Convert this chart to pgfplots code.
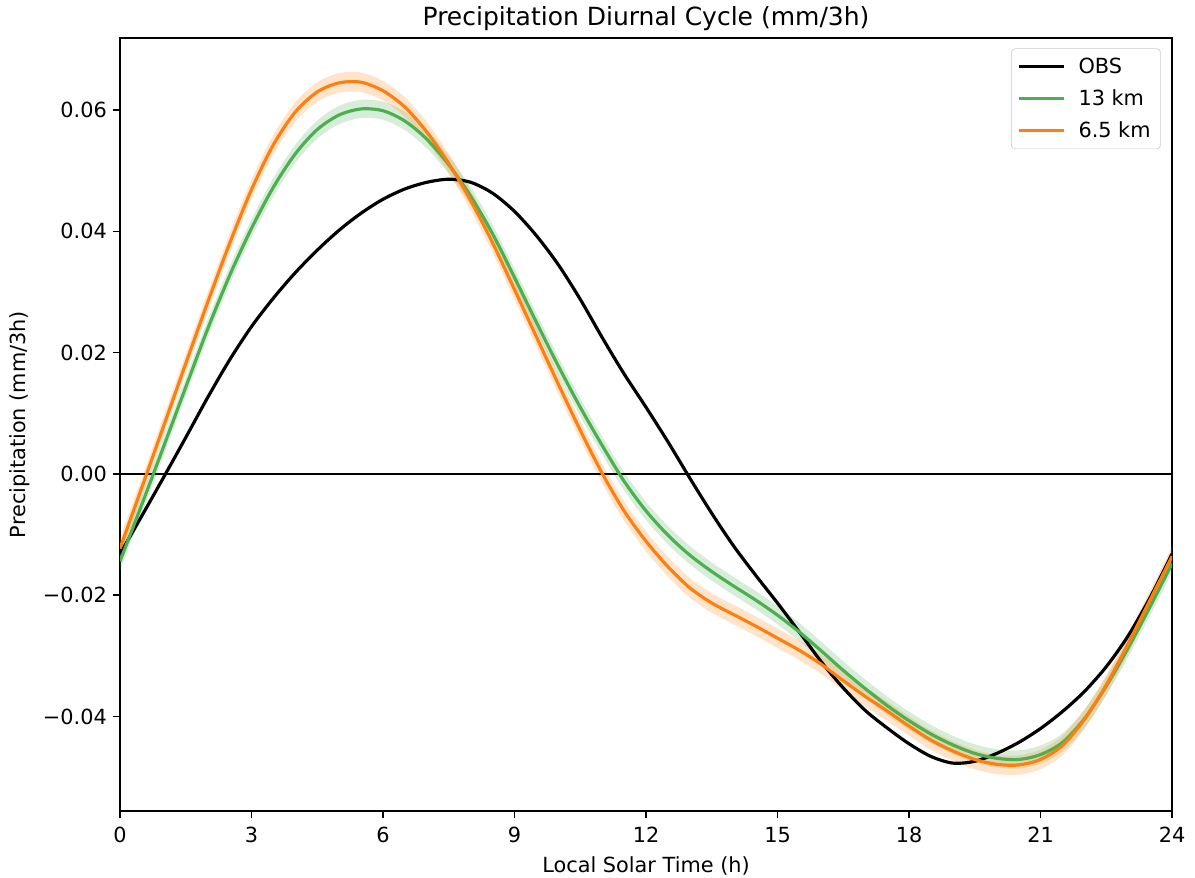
\documentclass[border=0pt]{standalone}
\usepackage{fontspec}
\setmainfont{DejaVu Sans}
\usepackage{pgfplots}
\usepackage{pgfplotstable}
\pgfplotsset{compat=1.18}
\usepgfplotslibrary{fillbetween}
\definecolor{cgreen}{HTML}{4CAF50}
\definecolor{corange}{HTML}{FF7F0E}
\pgfplotstableread{
x obs g glo ghi o olo ohi
0 -0.0132 -0.0144 -0.0159 -0.0129 -0.0123 -0.0139 -0.0107
0.5 -0.0069 -0.0050 -0.0065 -0.0035 -0.0022 -0.0038 -0.0006
1 -0.0005 0.0046 0.0031 0.0061 0.0080 0.0064 0.0096
1.5 0.0060 0.0143 0.0128 0.0158 0.0182 0.0166 0.0198
2 0.0126 0.0239 0.0224 0.0254 0.0283 0.0267 0.0299
2.5 0.0188 0.0327 0.0312 0.0342 0.0380 0.0364 0.0396
3 0.0243 0.0405 0.0390 0.0420 0.0469 0.0453 0.0485
3.5 0.0290 0.0473 0.0458 0.0488 0.0543 0.0527 0.0559
4 0.0332 0.0528 0.0513 0.0543 0.0597 0.0581 0.0613
4.5 0.0369 0.0568 0.0553 0.0583 0.0630 0.0614 0.0646
5 0.0402 0.0592 0.0577 0.0607 0.0645 0.0629 0.0661
5.5 0.0430 0.0602 0.0587 0.0617 0.0646 0.0630 0.0662
6 0.0453 0.0599 0.0584 0.0614 0.0632 0.0616 0.0648
6.5 0.0470 0.0582 0.0567 0.0597 0.0605 0.0589 0.0621
7 0.0481 0.0552 0.0537 0.0567 0.0564 0.0548 0.0580
7.5 0.0486 0.0510 0.0495 0.0525 0.0512 0.0496 0.0528
8 0.0481 0.0458 0.0443 0.0473 0.0451 0.0435 0.0467
8.5 0.0463 0.0396 0.0381 0.0411 0.0381 0.0365 0.0397
9 0.0433 0.0324 0.0309 0.0339 0.0304 0.0288 0.0320
9.5 0.0393 0.0250 0.0235 0.0265 0.0226 0.0210 0.0242
10 0.0345 0.0178 0.0163 0.0193 0.0148 0.0132 0.0164
10.5 0.0288 0.0110 0.0095 0.0125 0.0072 0.0056 0.0088
11 0.0225 0.0047 0.0032 0.0062 0.0001 -0.0015 0.0017
11.5 0.0165 -0.0012 -0.0027 0.0003 -0.0061 -0.0077 -0.0045
12 0.0110 -0.0061 -0.0076 -0.0046 -0.0111 -0.0127 -0.0095
12.5 0.0053 -0.0101 -0.0116 -0.0086 -0.0153 -0.0169 -0.0137
13 -0.0007 -0.0134 -0.0149 -0.0119 -0.0188 -0.0204 -0.0172
13.5 -0.0065 -0.0161 -0.0176 -0.0146 -0.0213 -0.0229 -0.0197
14 -0.0119 -0.0185 -0.0200 -0.0170 -0.0232 -0.0248 -0.0216
14.5 -0.0167 -0.0208 -0.0223 -0.0193 -0.0251 -0.0267 -0.0235
15 -0.0213 -0.0233 -0.0248 -0.0218 -0.0271 -0.0287 -0.0255
15.5 -0.0261 -0.0261 -0.0276 -0.0246 -0.0291 -0.0307 -0.0275
16 -0.0310 -0.0292 -0.0307 -0.0277 -0.0314 -0.0330 -0.0298
16.5 -0.0353 -0.0324 -0.0339 -0.0309 -0.0341 -0.0357 -0.0325
17 -0.0390 -0.0354 -0.0369 -0.0339 -0.0367 -0.0383 -0.0351
17.5 -0.0419 -0.0382 -0.0397 -0.0367 -0.0391 -0.0407 -0.0375
18 -0.0445 -0.0407 -0.0422 -0.0392 -0.0416 -0.0432 -0.0400
18.5 -0.0466 -0.0429 -0.0444 -0.0414 -0.0439 -0.0455 -0.0423
19 -0.0477 -0.0447 -0.0462 -0.0432 -0.0457 -0.0473 -0.0441
19.5 -0.0474 -0.0461 -0.0476 -0.0446 -0.0471 -0.0487 -0.0455
20 -0.0461 -0.0469 -0.0484 -0.0454 -0.0479 -0.0495 -0.0463
20.5 -0.0443 -0.0471 -0.0486 -0.0456 -0.0480 -0.0496 -0.0464
21 -0.0420 -0.0463 -0.0478 -0.0448 -0.0471 -0.0487 -0.0455
21.5 -0.0392 -0.0443 -0.0458 -0.0428 -0.0448 -0.0464 -0.0432
22 -0.0359 -0.0404 -0.0419 -0.0389 -0.0405 -0.0421 -0.0389
22.5 -0.0318 -0.0350 -0.0365 -0.0335 -0.0348 -0.0364 -0.0332
23 -0.0267 -0.0287 -0.0302 -0.0272 -0.0280 -0.0296 -0.0264
23.5 -0.0204 -0.0219 -0.0234 -0.0204 -0.0208 -0.0224 -0.0192
24 -0.0132 -0.0148 -0.0163 -0.0133 -0.0136 -0.0152 -0.0120
}\datatable
\begin{document}
\begin{tikzpicture}
\begin{axis}[
  name=ax,
  scale only axis,
  width=631.2pt, height=463.8pt,
  xmin=0, xmax=24, ymin=-0.0556, ymax=0.0719,
  xtick={0,3,6,9,12,15,18,21,24},
  ytick={-0.04,-0.02,0,0.02,0.04,0.06},
  yticklabels={−0.04,−0.02,0.00,0.02,0.04,0.06},
  scaled y ticks=false,
  /pgf/number format/assume math mode=true,
  tick align=outside, tick pos=left,
  major tick length=4.4pt,
  every tick/.style={black, line width=1pt},
  axis line style={line width=1pt},
  ticklabel style={font=\fontsize{12.5}{15}\selectfont},
  xticklabel style={yshift=-1.6pt},
  xlabel={Local Solar Time (h)},
  ylabel={Precipitation (mm/3h)},
  every axis x label/.style={at={(axis description cs:0.5,-0.0789)}, anchor=base},
  every axis y label/.style={at={(axis description cs:-0.0951,0.5)}, rotate=90, anchor=center},
  label style={font=\fontsize{12.5}{15}\selectfont},
  title={Precipitation Diurnal Cycle (mm/3h)},
  every axis title/.style={at={(axis description cs:0.5,1.0162)}, anchor=base},
  title style={font=\fontsize{15}{18}\selectfont},
  legend cell align=left,
  legend style={at={(0.9895,0.9867)}, anchor=north east, draw=black!20, rounded corners=2.5pt,
    font=\fontsize{12.5}{15}\selectfont, row sep=4.2pt, inner xsep=4pt, inner ysep=3.5pt},
  legend image code/.code={\draw[#1, line width=1.9pt] (0pt,0pt) -- (27pt,0pt); \path (32.5pt,0pt);},
]
\addplot[draw=none, smooth, name path=gu, forget plot] table[x=x, y=ghi] {\datatable};
\addplot[draw=none, smooth, name path=gl, forget plot] table[x=x, y=glo] {\datatable};
\addplot[cgreen, fill opacity=0.22, draw=none, forget plot] fill between[of=gu and gl];
\addplot[draw=none, smooth, name path=ou, forget plot] table[x=x, y=ohi] {\datatable};
\addplot[draw=none, smooth, name path=ol, forget plot] table[x=x, y=olo] {\datatable};
\addplot[corange, fill opacity=0.22, draw=none, forget plot] fill between[of=ou and ol];
\addplot[black, line width=1pt, forget plot] coordinates {(0,0) (24,0)};
\addplot[black, line width=1.9pt, smooth] table[x=x, y=obs] {\datatable};
\addlegendentry{OBS}
\addplot[cgreen, line width=1.9pt, smooth] table[x=x, y=g] {\datatable};
\addlegendentry{13 km}
\addplot[corange, line width=1.9pt, smooth] table[x=x, y=o] {\datatable};
\addlegendentry{6.5 km}
\end{axis}
\pgfresetboundingbox
\path ([xshift=-72pt,yshift=-39.6pt]ax.south west) rectangle ([xshift=13.8pt,yshift=22.8pt]ax.north east);
\end{tikzpicture}
\end{document}
